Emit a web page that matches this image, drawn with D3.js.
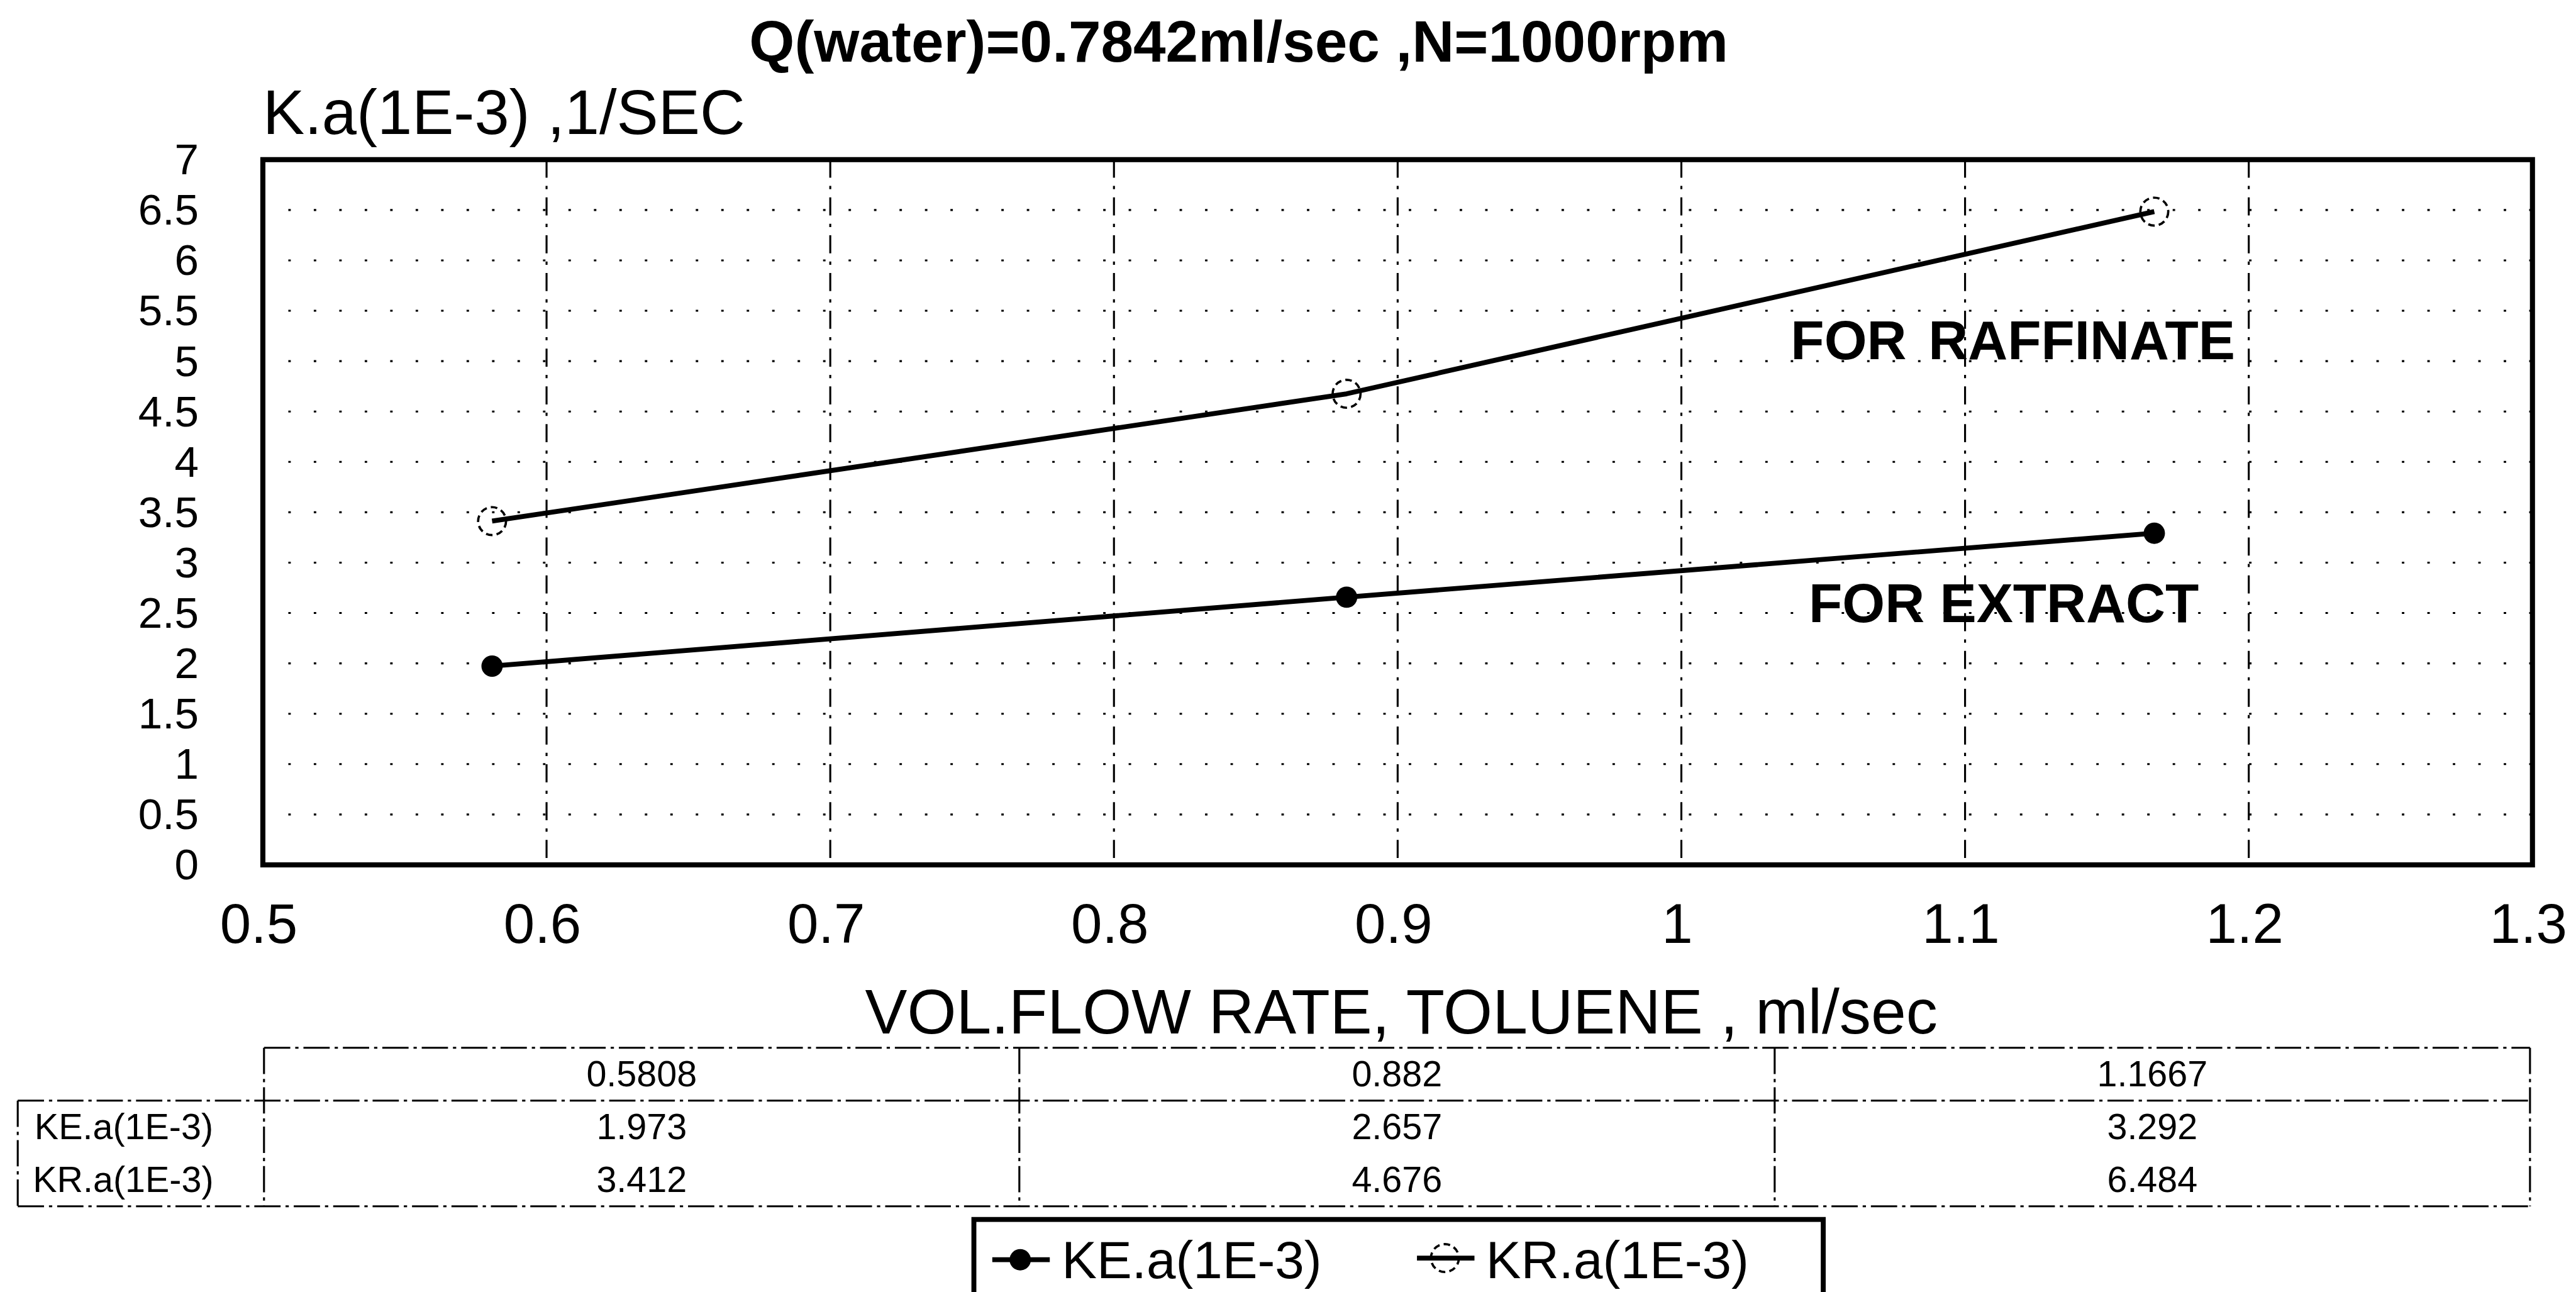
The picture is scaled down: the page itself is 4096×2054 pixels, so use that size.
<!DOCTYPE html>
<html>
<head>
<meta charset="utf-8">
<script src="https://cdn.jsdelivr.net/npm/d3@7"></script>
<style>
  html, body { margin: 0; padding: 0; background: #fff; }
  svg { display: block; }
  text { font-family: "Liberation Sans", Arial, sans-serif; fill: #000; }
</style>
</head>
<body>
<svg id="chart"></svg>
<script>
const flowRate = [0.5808, 0.882, 1.1667];
const keValues = [1.973, 2.657, 3.292];
const krValues = [3.412, 4.676, 6.484];
const seriesNames = ['KE.a(1E-3)', 'KR.a(1E-3)'];
const xTicks = [0.5, 0.6, 0.7, 0.8, 0.9, 1, 1.1, 1.2, 1.3];
const yTicks = [0, 0.5, 1, 1.5, 2, 2.5, 3, 3.5, 4, 4.5, 5, 5.5, 6, 6.5, 7];
const titleText = 'Q(water)=0.7842ml/sec ,N=1000rpm';
const yTitleText = 'K.a(1E-3) ,1/SEC';
const xTitleText = 'VOL.FLOW RATE, TOLUENE , ml/sec';
const annotations = ['FOR RAFFINATE', 'FOR EXTRACT'];

// drawing is laid out in a 1568x786 space and scaled up to the window
const W = 1568, H = 786;
const plot = { left: 160, right: 1541.5, top: 97, bottom: 526.2 };

const svg = d3.select('#chart')
    .attr('width', 4096)
    .attr('height', 2054)
    .attr('viewBox', '0 0 ' + W + ' ' + H);

svg.append('rect').attr('width', W).attr('height', H).attr('fill', '#fff');

const x = d3.scaleLinear().domain([0.5, 1.3]).range([plot.left, plot.right]);
const y = d3.scaleLinear().domain([0, 7]).range([plot.bottom, plot.top]);

// Title and axis titles
svg.append('text')
    .attr('x', 754).attr('y', 37.3)
    .attr('text-anchor', 'middle')
    .attr('font-size', 35.5).attr('font-weight', 'bold')
    .text(titleText);

svg.append('text')
    .attr('x', 160).attr('y', 81.3)
    .attr('font-size', 38)
    .text(yTitleText);

svg.append('text')
    .attr('x', 853).attr('y', 629)
    .attr('text-anchor', 'middle')
    .attr('font-size', 38.4)
    .text(xTitleText);

// Grid
const grid = svg.append('g').attr('stroke', '#000').attr('fill', 'none');
grid.selectAll('line.h')
    .data(yTicks.slice(1, -1))
    .enter().append('line')
    .attr('class', 'h')
    .attr('x1', plot.left).attr('x2', plot.right)
    .attr('y1', d => y(d)).attr('y2', d => y(d))
    .attr('stroke-width', 1.2)
    .attr('stroke-dasharray', '1.5,14');
grid.selectAll('line.v')
    .data(xTicks.slice(1, -1))
    .enter().append('line')
    .attr('class', 'v')
    .attr('x1', d => x(d)).attr('x2', d => x(d))
    .attr('y1', plot.top).attr('y2', plot.bottom)
    .attr('stroke-width', 1.2)
    .attr('stroke-dasharray', '11,5,2,5');

// Axes (labels only, frame drawn below)
const yAxis = svg.append('g')
    .attr('transform', 'translate(' + plot.left + ',0)')
    .call(d3.axisLeft(y).tickValues(yTicks).tickSize(0).tickPadding(39).tickFormat(d3.format('')));
yAxis.select('.domain').remove();
yAxis.selectAll('text').attr('font-size', 26.5).attr('font-family', null);

const xAxis = svg.append('g')
    .attr('transform', 'translate(0,' + plot.bottom + ')')
    .call(d3.axisBottom(x).tickValues(xTicks).tickSize(0).tickPadding(23.5).tickFormat(d3.format('')));
xAxis.select('.domain').remove();
xAxis.selectAll('text').attr('font-size', 34).attr('font-family', null).attr('dx', -3);

// Plot frame
svg.append('rect')
    .attr('x', plot.left).attr('y', plot.top)
    .attr('width', plot.right - plot.left).attr('height', plot.bottom - plot.top)
    .attr('fill', 'none').attr('stroke', '#000').attr('stroke-width', 3.1);

// Series
const line = d3.line().x(d => x(d[0])).y(d => y(d[1]));
const keData = d3.zip(flowRate, keValues);
const krData = d3.zip(flowRate, krValues);

[keData, krData].forEach(data => {
    svg.append('path')
        .datum(data)
        .attr('d', line)
        .attr('fill', 'none')
        .attr('stroke', '#000')
        .attr('stroke-width', 3)
        .attr('stroke-linejoin', 'round');
});

svg.selectAll('circle.ke')
    .data(keData)
    .enter().append('circle')
    .attr('class', 'ke')
    .attr('cx', d => x(d[0])).attr('cy', d => y(d[1]))
    .attr('r', 6.5)
    .attr('fill', '#000');

svg.selectAll('circle.kr')
    .data(krData)
    .enter().append('circle')
    .attr('class', 'kr')
    .attr('cx', d => x(d[0])).attr('cy', d => y(d[1]))
    .attr('r', 8.5)
    .attr('fill', 'none')
    .attr('stroke', '#000')
    .attr('stroke-width', 1.4)
    .attr('stroke-dasharray', '4,2.5');

// Text annotations in plot
svg.append('text')
    .attr('x', 1090).attr('y', 218.4)
    .attr('font-size', 33.4).attr('font-weight', 'bold')
    .attr('word-spacing', 4)
    .text(annotations[0]);
svg.append('text')
    .attr('x', 1101).attr('y', 378.6)
    .attr('font-size', 33.4).attr('font-weight', 'bold')
    .text(annotations[1]);

// Data table under the chart
const cols = d3.scaleBand().domain(d3.range(flowRate.length)).range([160.7, 1540]);
const rows = d3.scaleBand().domain(['head', 'ke', 'kr']).range([637.5, 734]);
const tbl = svg.append('g');
const tableLine = sel => sel.attr('stroke', '#000').attr('stroke-width', 1.2).attr('stroke-dasharray', '16,3,2,3');

// horizontal rules
tableLine(tbl.append('line')
    .attr('x1', cols.range()[0]).attr('x2', cols.range()[1])
    .attr('y1', rows('head')).attr('y2', rows('head')));
['ke', 'kr'].forEach(r => {
    tableLine(tbl.append('line')
        .attr('x1', 10.8).attr('x2', cols.range()[1])
        .attr('y1', rows(r) + (r === 'kr' ? rows.bandwidth() : 0))
        .attr('y2', rows(r) + (r === 'kr' ? rows.bandwidth() : 0)));
});
// vertical rules
tableLine(tbl.append('line')
    .attr('x1', 10.8).attr('x2', 10.8)
    .attr('y1', rows('ke')).attr('y2', rows('kr') + rows.bandwidth()));
d3.range(flowRate.length + 1).forEach(i => {
    const xx = cols.range()[0] + i * cols.bandwidth();
    tableLine(tbl.append('line')
        .attr('x1', xx).attr('x2', xx)
        .attr('y1', rows('head')).attr('y2', rows('kr') + rows.bandwidth()));
});

const cellText = (sel) => sel.attr('font-size', 22).attr('dy', '0.33em');
flowRate.forEach((v, i) => {
    cellText(tbl.append('text')
        .attr('x', cols(i) + cols.bandwidth() / 2)
        .attr('y', rows('head') + rows.bandwidth() / 2)
        .attr('text-anchor', 'middle')
        .text(String(v)));
    cellText(tbl.append('text')
        .attr('x', cols(i) + cols.bandwidth() / 2)
        .attr('y', rows('ke') + rows.bandwidth() / 2)
        .attr('text-anchor', 'middle')
        .text(String(keValues[i])));
    cellText(tbl.append('text')
        .attr('x', cols(i) + cols.bandwidth() / 2)
        .attr('y', rows('kr') + rows.bandwidth() / 2)
        .attr('text-anchor', 'middle')
        .text(String(krValues[i])));
});
cellText(tbl.append('text')
    .attr('x', 21).attr('y', rows('ke') + rows.bandwidth() / 2)
    .text(seriesNames[0]));
cellText(tbl.append('text')
    .attr('x', 20).attr('y', rows('kr') + rows.bandwidth() / 2)
    .text(seriesNames[1]));

// Legend
const legend = svg.append('g');
legend.append('rect')
    .attr('x', 592.8).attr('y', 742)
    .attr('width', 517).attr('height', 60)
    .attr('fill', '#fff').attr('stroke', '#000').attr('stroke-width', 3);

const legendItems = [
    { name: seriesNames[0], x0: 604, cy: 766.5, filled: true, tx: 646.3 },
    { name: seriesNames[1], x0: 862.5, cy: 765.5, filled: false, tx: 904.5 }
];
legendItems.forEach(it => {
    legend.append('line')
        .attr('x1', it.x0).attr('x2', it.x0 + 35)
        .attr('y1', it.cy).attr('y2', it.cy)
        .attr('stroke', '#000').attr('stroke-width', 3);
    const c = legend.append('circle')
        .attr('cx', it.x0 + 17).attr('cy', it.cy)
        .attr('r', it.filled ? 6.5 : 8.5);
    if (it.filled) c.attr('fill', '#000');
    else c.attr('fill', 'none').attr('stroke', '#000').attr('stroke-width', 1.4).attr('stroke-dasharray', '4,2.5');
    legend.append('text')
        .attr('x', it.tx).attr('y', 777.6)
        .attr('font-size', 32)
        .text(it.name);
});
</script>
</body>
</html>
